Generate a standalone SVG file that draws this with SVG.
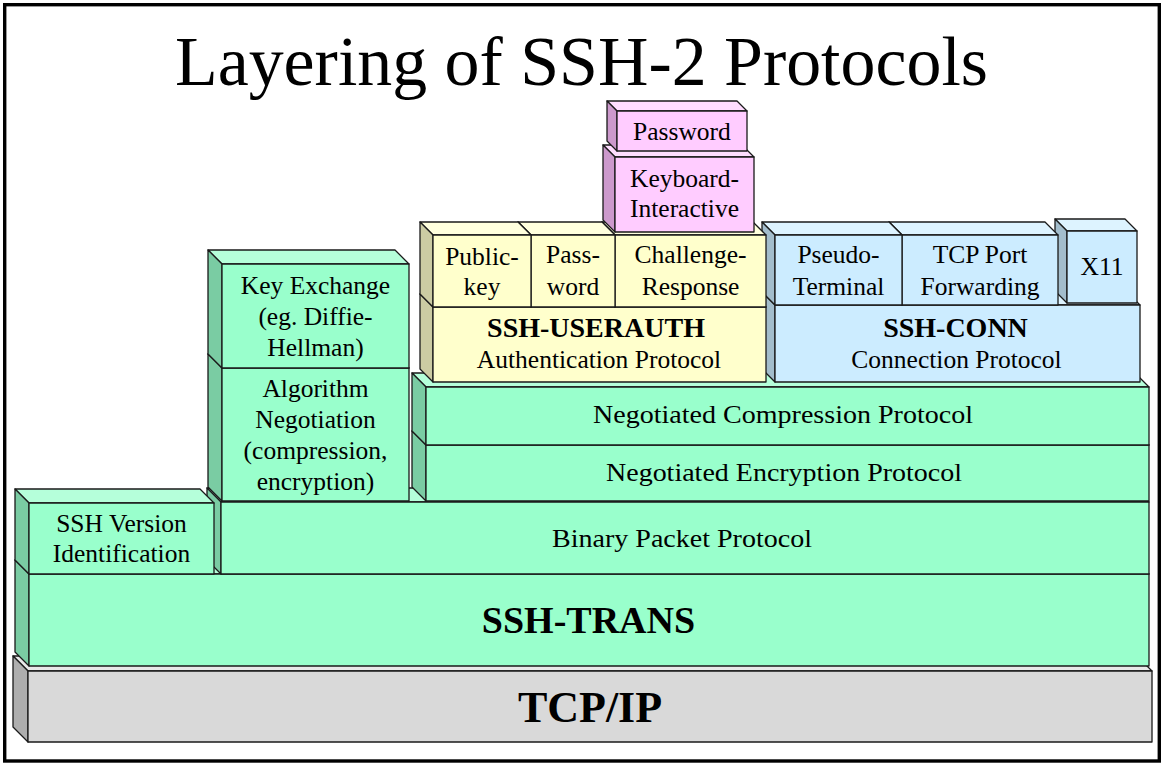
<svg xmlns="http://www.w3.org/2000/svg" width="1163" height="766" viewBox="0 0 1163 766">
<style>
polygon,rect.f{stroke:#1a1a1a;stroke-width:1.3;stroke-linejoin:round}
.green .f{fill:#99FFCC}.green .t{fill:#B5FFDA}.green .s{fill:#7ACCA3}
.yellow .f{fill:#FFFFCC}.yellow .t{fill:#FFFFDD}.yellow .s{fill:#CCCCA3}
.pink .f{fill:#FFCCFF}.pink .t{fill:#FFDDFF}.pink .s{fill:#CC99CC}
.blue .f{fill:#CCECFF}.blue .t{fill:#DDF3FF}.blue .s{fill:#A3BDCC}
.gray .f{fill:#D9D9D9}.gray .t{fill:#E8E8E8}.gray .s{fill:#AEAEAE}
text{font-family:"Liberation Serif","Times New Roman",serif;fill:#000;text-anchor:middle;font-size:25.5px}
text.b{font-weight:bold}
</style>
<rect x="4.7" y="4.7" width="1154.6" height="756.3" fill="#fff" stroke="#000" stroke-width="3.4"/>
<text x="581.5" y="85" style="font-size:69.5px" textLength="813" lengthAdjust="spacingAndGlyphs">Layering of SSH-2 Protocols</text>

<g id="tcpip" class="gray">
<polygon class="t" points="28,671 1152,671 1137,656 13,656"/>
<polygon class="s" points="28,671 13,656 13,727 28,742"/>
<rect class="f" x="28" y="671" width="1124" height="71"/>
<text class="b" x="590" y="722" style="font-size:44px">TCP/IP</text>
</g>
<g id="sshtrans" class="green">
<polygon class="t" points="29,574 1149,574 1135,560 15,560"/>
<polygon class="s" points="29,574 15,560 15,652 29,666"/>
<rect class="f" x="29" y="574" width="1120" height="92"/>
<text class="b" x="588.5" y="633" style="font-size:38px">SSH-TRANS</text>
</g>
<g id="binary" class="green">
<polygon class="t" points="221,502 1149,502 1135,488 207,488"/>
<polygon class="s" points="221,502 207,488 207,560 221,574"/>
<rect class="f" x="221" y="502" width="928" height="72"/>
<text x="682" y="547" textLength="260" lengthAdjust="spacingAndGlyphs">Binary Packet Protocol</text>
</g>
<g id="version" class="green">
<polygon class="t" points="29,503 214,503 200,489 15,489"/>
<polygon class="s" points="29,503 15,489 15,560 29,574"/>
<rect class="f" x="29" y="503" width="185" height="71"/>
<text x="121.5" y="532">SSH Version</text>
<text x="121.5" y="562">Identification</text>
</g>
<g id="encryption" class="green">
<polygon class="t" points="426,445 1149,445 1135,431 412,431"/>
<polygon class="s" points="426,445 412,431 412,487 426,501"/>
<rect class="f" x="426" y="445" width="723" height="56"/>
<text x="784" y="481" textLength="356" lengthAdjust="spacingAndGlyphs">Negotiated Encryption Protocol</text>
</g>
<g id="compression" class="green">
<polygon class="t" points="426,387 1149,387 1135,373 412,373"/>
<polygon class="s" points="426,387 412,373 412,431 426,445"/>
<rect class="f" x="426" y="387" width="723" height="58"/>
<text x="783" y="423" textLength="380" lengthAdjust="spacingAndGlyphs">Negotiated Compression Protocol</text>
</g>
<g id="algorithm" class="green">
<polygon class="t" points="222,368 409,368 395,354 208,354"/>
<polygon class="s" points="222,368 208,354 208,487 222,501"/>
<rect class="f" x="222" y="368" width="187" height="133"/>
<text x="315.5" y="397">Algorithm</text>
<text x="315.5" y="428">Negotiation</text>
<text x="315.5" y="459">(compression,</text>
<text x="315.5" y="490">encryption)</text>
</g>
<g id="keyexchange" class="green">
<polygon class="t" points="222,264 409,264 395,250 208,250"/>
<polygon class="s" points="222,264 208,250 208,354 222,368"/>
<rect class="f" x="222" y="264" width="187" height="104"/>
<text x="315.5" y="294">Key Exchange</text>
<text x="315.5" y="325">(eg. Diffie-</text>
<text x="315.5" y="356">Hellman)</text>
</g>
<g id="sshconn" class="blue">
<polygon class="t" points="775,305 1140,305 1127,292 762,292"/>
<polygon class="s" points="775,305 762,292 762,369 775,382"/>
<rect class="f" x="775" y="305" width="365" height="77"/>
<text class="b" x="955.5" y="337" style="font-size:28px">SSH-CONN</text>
<text x="956.5" y="368">Connection Protocol</text>
</g>
<g id="x11" class="blue">
<polygon class="t" points="1067,231 1137,231 1125,219 1055,219"/>
<polygon class="s" points="1067,231 1055,219 1055,291 1067,303"/>
<rect class="f" x="1067" y="231" width="70" height="72"/>
<text x="1102" y="275">X11</text>
</g>
<g id="tcpport" class="blue">
<polygon class="t" points="902,235 1058,235 1045,222 889,222"/>
<polygon class="s" points="902,235 889,222 889,292 902,305"/>
<rect class="f" x="902" y="235" width="156" height="70"/>
<text x="980" y="263">TCP Port</text>
<text x="980" y="295">Forwarding</text>
</g>
<g id="pseudo" class="blue">
<polygon class="t" points="775,235 902,235 889,222 762,222"/>
<polygon class="s" points="775,235 762,222 762,292 775,305"/>
<rect class="f" x="775" y="235" width="127" height="70"/>
<text x="838.5" y="263">Pseudo-</text>
<text x="838.5" y="295">Terminal</text>
</g>
<g id="userauth" class="yellow">
<polygon class="t" points="433,307 766,307 753,294 420,294"/>
<polygon class="s" points="433,307 420,294 420,369 433,382"/>
<rect class="f" x="433" y="307" width="333" height="75"/>
<text class="b" x="596" y="337" style="font-size:28px">SSH-USERAUTH</text>
<text x="599" y="368">Authentication Protocol</text>
</g>
<g id="challenge" class="yellow">
<polygon class="t" points="615,235 766,235 753,222 602,222"/>
<polygon class="s" points="615,235 602,222 602,294 615,307"/>
<rect class="f" x="615" y="235" width="151" height="72"/>
<text x="690.5" y="263">Challenge-</text>
<text x="690.5" y="295">Response</text>
</g>
<g id="password2" class="yellow">
<polygon class="t" points="531,235 615,235 602,222 518,222"/>
<polygon class="s" points="531,235 518,222 518,294 531,307"/>
<rect class="f" x="531" y="235" width="84" height="72"/>
<text x="573" y="263">Pass-</text>
<text x="573" y="295">word</text>
</g>
<g id="publickey" class="yellow">
<polygon class="t" points="433,235 531,235 518,222 420,222"/>
<polygon class="s" points="433,235 420,222 420,294 433,307"/>
<rect class="f" x="433" y="235" width="98" height="72"/>
<text x="482" y="265">Public-</text>
<text x="482" y="295">key</text>
</g>
<g id="keyboard" class="pink">
<polygon class="t" points="615,157 754,157 742,145 603,145"/>
<polygon class="s" points="615,157 603,145 603,220 615,232"/>
<rect class="f" x="615" y="157" width="139" height="75"/>
<text x="684.5" y="187">Keyboard-</text>
<text x="684.5" y="217">Interactive</text>
</g>
<g id="password" class="pink">
<polygon class="t" points="617,111 747,111 737,101 607,101"/>
<polygon class="s" points="617,111 607,101 607,141 617,151"/>
<rect class="f" x="617" y="111" width="130" height="40"/>
<text x="682" y="140">Password</text>
</g>
<g id="connectors"/>
</svg>
